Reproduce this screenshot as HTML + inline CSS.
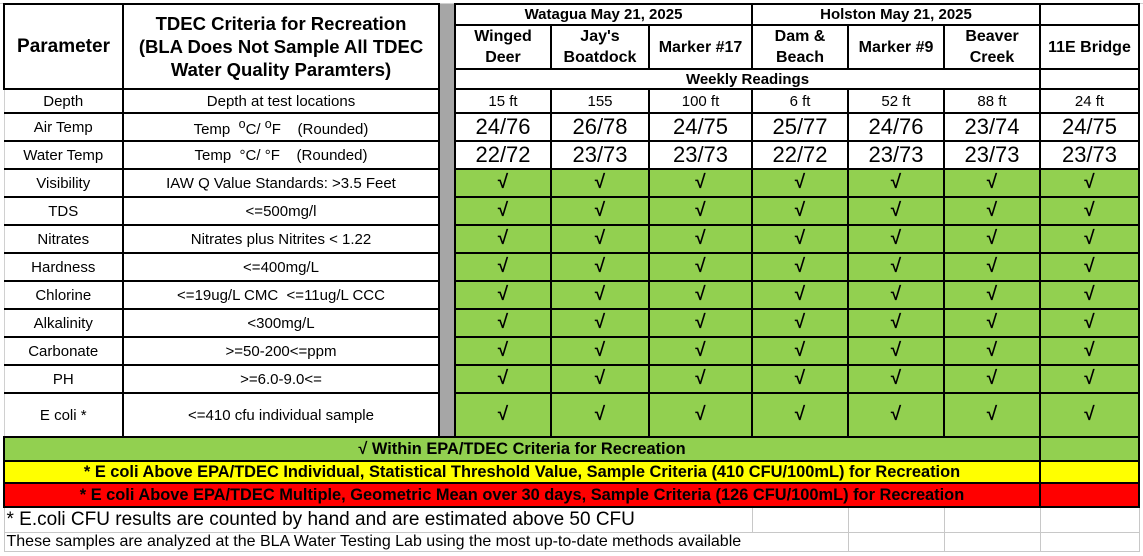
<!DOCTYPE html>
<html><head><style>
body{margin:0;width:1143px;height:556px;background:#fff;overflow:hidden;font-family:"Liberation Sans",Arial,sans-serif;position:relative}
table{position:absolute;left:3px;top:3px;border-collapse:collapse;table-layout:fixed}
td{border:2px solid #000;text-align:center;vertical-align:middle;padding:0;overflow:hidden;white-space:nowrap;color:#000}
.b{font-weight:bold}
.h{font-size:16px;font-weight:bold;line-height:21px}
.s{font-size:15px}
.t{font-size:22px}
.g{background:#92d050}
.c{background:#92d050;font-weight:bold;font-size:19px}
.gr{background:#a6a6a6;border-top:none;border-bottom:none}
.y{background:#ffff00}
.r{background:#ff0000}
.l{font-size:16.4px}
.f td{border:1px solid #c8c8c8;text-align:left}
.p{border-left:1px solid #d0d0d0}
</style></head><body>
<div style="position:absolute;left:0;top:0;width:1143px;height:3px;border-bottom:1px solid #d0d0d0"></div>
<table>
<colgroup><col style="width:119px"><col style="width:316px"><col style="width:16px"><col style="width:96px"><col style="width:98px"><col style="width:103px"><col style="width:96px"><col style="width:96px"><col style="width:96px"><col style="width:99px"></colgroup>
<tr style="height:21px"><td rowspan="3" class="b" style="font-size:19px">Parameter</td><td rowspan="3" class="b" style="font-size:18.5px;line-height:23px;white-space:normal">TDEC Criteria for Recreation<br>(BLA Does Not Sample All TDEC<br>Water Quality Paramters)</td><td rowspan="15" class="gr"></td><td colspan="3" class="b s">Watagua May 21, 2025</td><td colspan="3" class="b s">Holston May 21, 2025</td><td></td></tr>
<tr style="height:44px"><td class="h">Winged<br>Deer</td><td class="h">Jay's<br>Boatdock</td><td class="h">Marker #17</td><td class="h">Dam &amp;<br>Beach</td><td class="h">Marker #9</td><td class="h">Beaver<br>Creek</td><td class="h">11E Bridge</td></tr>
<tr style="height:20px"><td colspan="6" class="b s" style="border-right:none">Weekly Readings</td><td></td></tr>
<tr style="height:24px" class="s"><td class="p">Depth</td><td>Depth at test locations</td><td>15 ft</td><td>155</td><td>100 ft</td><td>6 ft</td><td>52 ft</td><td>88 ft</td><td>24 ft</td></tr>
<tr style="height:28px"><td class="s p">Air Temp</td><td class="s">Temp &nbsp;<sup>o</sup>C/ <sup>o</sup>F &nbsp;&nbsp;&nbsp;(Rounded)</td><td class="t">24/76</td><td class="t">26/78</td><td class="t">24/75</td><td class="t">25/77</td><td class="t">24/76</td><td class="t">23/74</td><td class="t">24/75</td></tr>
<tr style="height:28px"><td class="s p">Water Temp</td><td class="s">Temp &nbsp;°C/ °F &nbsp;&nbsp;&nbsp;(Rounded)</td><td class="t">22/72</td><td class="t">23/73</td><td class="t">23/73</td><td class="t">22/72</td><td class="t">23/73</td><td class="t">23/73</td><td class="t">23/73</td></tr>
<tr style="height:28px"><td class="s p">Visibility</td><td class="s">IAW Q Value Standards: &gt;3.5 Feet</td><td class="c">√</td><td class="c">√</td><td class="c">√</td><td class="c">√</td><td class="c">√</td><td class="c">√</td><td class="c">√</td></tr>
<tr style="height:28px"><td class="s p">TDS</td><td class="s">&lt;=500mg/l</td><td class="c">√</td><td class="c">√</td><td class="c">√</td><td class="c">√</td><td class="c">√</td><td class="c">√</td><td class="c">√</td></tr>
<tr style="height:28px"><td class="s p">Nitrates</td><td class="s">Nitrates plus Nitrites &lt; 1.22</td><td class="c">√</td><td class="c">√</td><td class="c">√</td><td class="c">√</td><td class="c">√</td><td class="c">√</td><td class="c">√</td></tr>
<tr style="height:28px"><td class="s p">Hardness</td><td class="s">&lt;=400mg/L</td><td class="c">√</td><td class="c">√</td><td class="c">√</td><td class="c">√</td><td class="c">√</td><td class="c">√</td><td class="c">√</td></tr>
<tr style="height:28px"><td class="s p">Chlorine</td><td class="s">&lt;=19ug/L CMC &nbsp;&lt;=11ug/L CCC</td><td class="c">√</td><td class="c">√</td><td class="c">√</td><td class="c">√</td><td class="c">√</td><td class="c">√</td><td class="c">√</td></tr>
<tr style="height:28px"><td class="s p">Alkalinity</td><td class="s">&lt;300mg/L</td><td class="c">√</td><td class="c">√</td><td class="c">√</td><td class="c">√</td><td class="c">√</td><td class="c">√</td><td class="c">√</td></tr>
<tr style="height:28px"><td class="s p">Carbonate</td><td class="s">&gt;=50-200&lt;=ppm</td><td class="c">√</td><td class="c">√</td><td class="c">√</td><td class="c">√</td><td class="c">√</td><td class="c">√</td><td class="c">√</td></tr>
<tr style="height:28px"><td class="s p">PH</td><td class="s">&gt;=6.0-9.0&lt;=</td><td class="c">√</td><td class="c">√</td><td class="c">√</td><td class="c">√</td><td class="c">√</td><td class="c">√</td><td class="c">√</td></tr>
<tr style="height:44px"><td class="s p">E coli *</td><td class="s">&lt;=410 cfu individual sample</td><td class="c">√</td><td class="c">√</td><td class="c">√</td><td class="c">√</td><td class="c">√</td><td class="c">√</td><td class="c">√</td></tr>
<tr style="height:24px"><td colspan="9" class="g b l">√ Within EPA/TDEC Criteria for Recreation</td><td class="g"></td></tr>
<tr style="height:22px"><td colspan="9" class="y b l">* E coli Above EPA/TDEC Individual, Statistical Threshold Value, Sample Criteria (410 CFU/100mL) for Recreation</td><td class="y"></td></tr>
<tr style="height:24px"><td colspan="9" class="r b l">* E coli Above EPA/TDEC Multiple, Geometric Mean over 30 days, Sample Criteria (126 CFU/100mL) for Recreation</td><td class="r"></td></tr>
<tr style="height:25px" class="f"><td colspan="6" style="font-size:19px;padding-left:2px">* E.coli CFU results are counted by hand and are estimated above 50 CFU</td><td></td><td></td><td></td><td></td></tr>
<tr style="height:19px" class="f"><td colspan="7" style="font-size:16px;padding-left:2px">These samples are analyzed at the BLA Water Testing Lab using the most up-to-date methods available</td><td></td><td></td><td></td></tr>
</table>
</body></html>
